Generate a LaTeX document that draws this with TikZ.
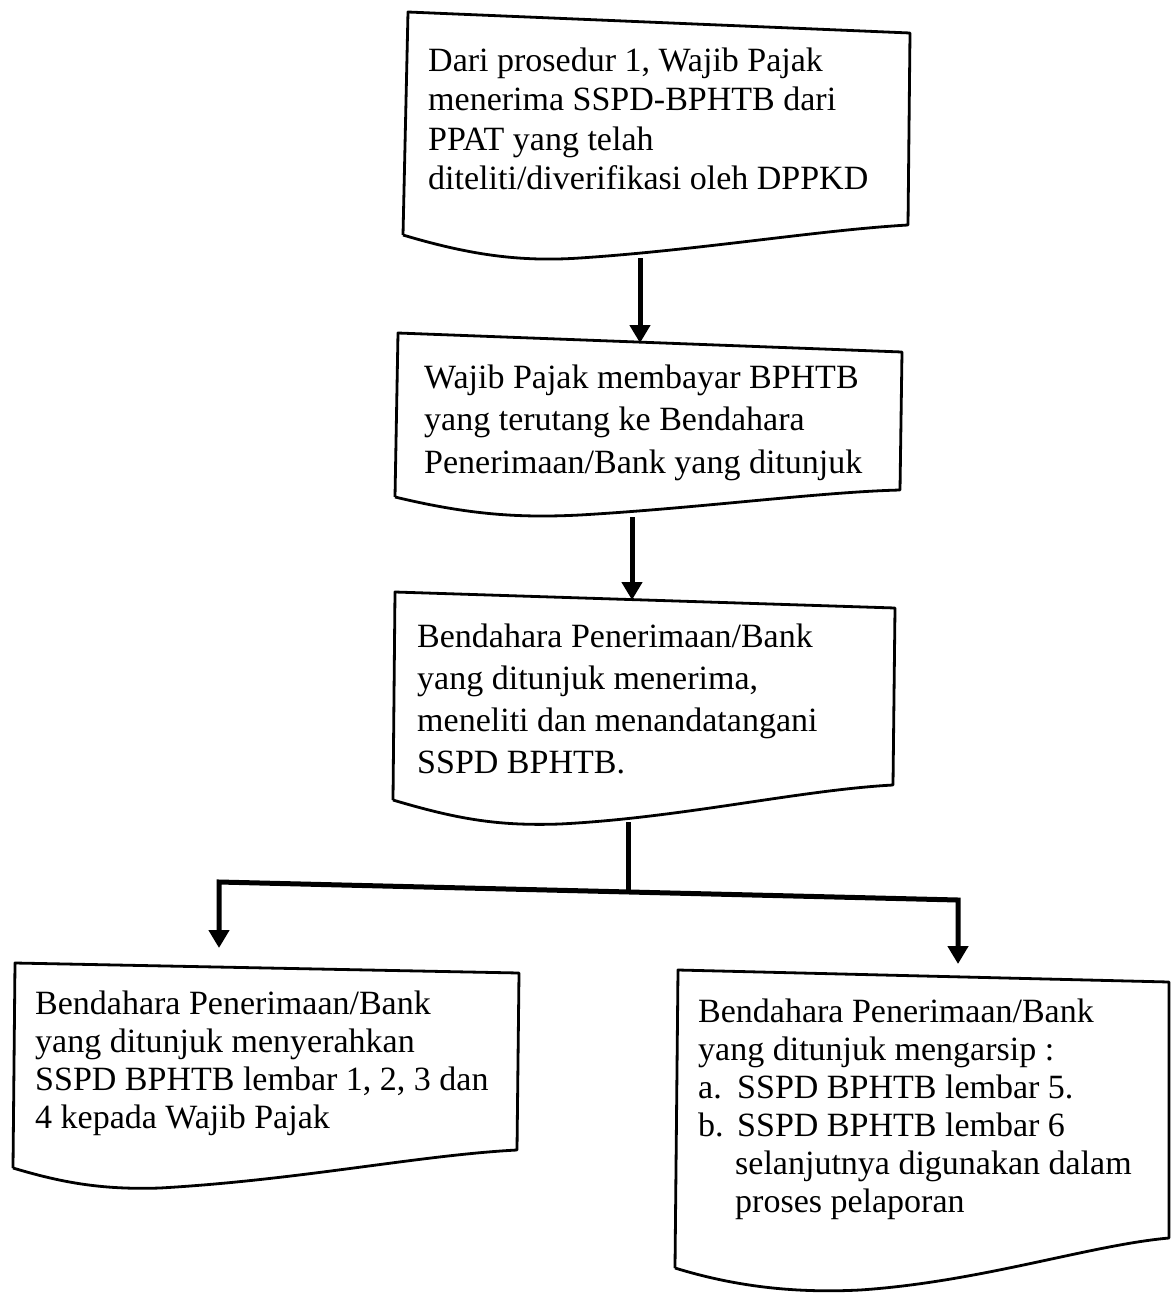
\documentclass[tikz,border=0pt]{standalone}
\usepackage{fontspec}
\setmainfont{Liberation Serif}
\usetikzlibrary{arrows.meta}
\tikzset{
  docbox/.style={draw=black, line width=2.8pt, line join=round},
  flow/.style={line width=5pt, -{Triangle[length=18pt,width=20pt]}},
  branch/.style={line width=5pt, {Triangle[length=18pt,width=20pt]}-{Triangle[length=18pt,width=20pt]}},
  txt/.style={anchor=base west, inner sep=0pt, font=\fontsize{34}{39.5}\selectfont}
}
\begin{document}
\begin{tikzpicture}[x=1pt,y=-1pt]
\useasboundingbox[fill=white] (0,0) rectangle (1172,1293);

% Box 1
\draw[docbox] (403,235) -- (408,12) -- (910,33) -- (908,225)
  .. controls (820,230) and (700,250) .. (580,258)
  .. controls (520,262) and (470,255) .. (403,235);
\node[txt] (t1) at (428,71) {\begin{tabular}[t]{@{}l@{}}Dari prosedur 1, Wajib Pajak\\menerima SSPD-BPHTB dari\\PPAT yang telah\\diteliti/diverifikasi oleh DPPKD\end{tabular}};

% Box 2
\draw[docbox] (395,497) -- (398,333) -- (902,352) -- (900,490)
  .. controls (820,492) and (700,508) .. (580,515)
  .. controls (520,518) and (470,515) .. (395,497);
\node[txt, font=\fontsize{34}{42.5}\selectfont] (t2) at (424,388) {\begin{tabular}[t]{@{}l@{}}Wajib Pajak membayar BPHTB\\yang terutang ke Bendahara\\Penerimaan/Bank yang ditunjuk\end{tabular}};

% Box 3
\draw[docbox] (393,800) -- (395,592) -- (895,608) -- (893,785)
  .. controls (800,790) and (680,818) .. (560,824)
  .. controls (500,826) and (460,820) .. (393,800);
\node[txt, font=\fontsize{34}{42}\selectfont] (t3) at (417,647) {\begin{tabular}[t]{@{}l@{}}Bendahara Penerimaan/Bank\\yang ditunjuk menerima,\\meneliti dan menandatangani\\SSPD BPHTB.\end{tabular}};

% Box 4
\draw[docbox] (13,1168) -- (15,963) -- (519,973) -- (517,1150)
  .. controls (420,1155) and (300,1180) .. (160,1188)
  .. controls (100,1190) and (60,1182) .. (13,1168);
\node[txt, font=\fontsize{34}{38}\selectfont] (t4) at (35,1014) {\begin{tabular}[t]{@{}l@{}}Bendahara Penerimaan/Bank\\yang ditunjuk menyerahkan\\SSPD BPHTB lembar 1, 2, 3 dan\\4 kepada Wajib Pajak\end{tabular}};

% Box 5
\draw[docbox] (675,1268) -- (678,970) -- (1169,982) -- (1169,1238)
  .. controls (1090,1245) and (980,1282) .. (860,1290)
  .. controls (800,1293) and (740,1288) .. (675,1268);
\node[txt, font=\fontsize{34}{38}\selectfont] (t5) at (698,1022) {\begin{tabular}[t]{@{}l@{}}Bendahara Penerimaan/Bank\\yang ditunjuk mengarsip :\\\makebox[39pt][l]{a.}SSPD BPHTB lembar 5.\\\makebox[39pt][l]{b.}SSPD BPHTB lembar 6\\\hspace{37pt}selanjutnya digunakan dalam\\\hspace{37pt}proses pelaporan\end{tabular}};

% connector points
\coordinate (b1s) at (640,258);
\coordinate (b2n) at (640,343);
\coordinate (b2s) at (632,517);
\coordinate (b3n) at (632,600);
\coordinate (b3s) at (628,822);
\coordinate (jl) at (219,882);
\coordinate (jr) at (958,900);
\coordinate (jm) at (628,892);
\coordinate (b4n) at (219,948);
\coordinate (b5n) at (958,964);

\draw[flow] (b1s) -- (b2n);
\draw[flow] (b2s) -- (b3n);
\draw[line width=5pt] (b3s) -- (jm);
\draw[branch, line join=miter] (b4n) -- (jl) -- (jr) -- (b5n);
\end{tikzpicture}
\end{document}
